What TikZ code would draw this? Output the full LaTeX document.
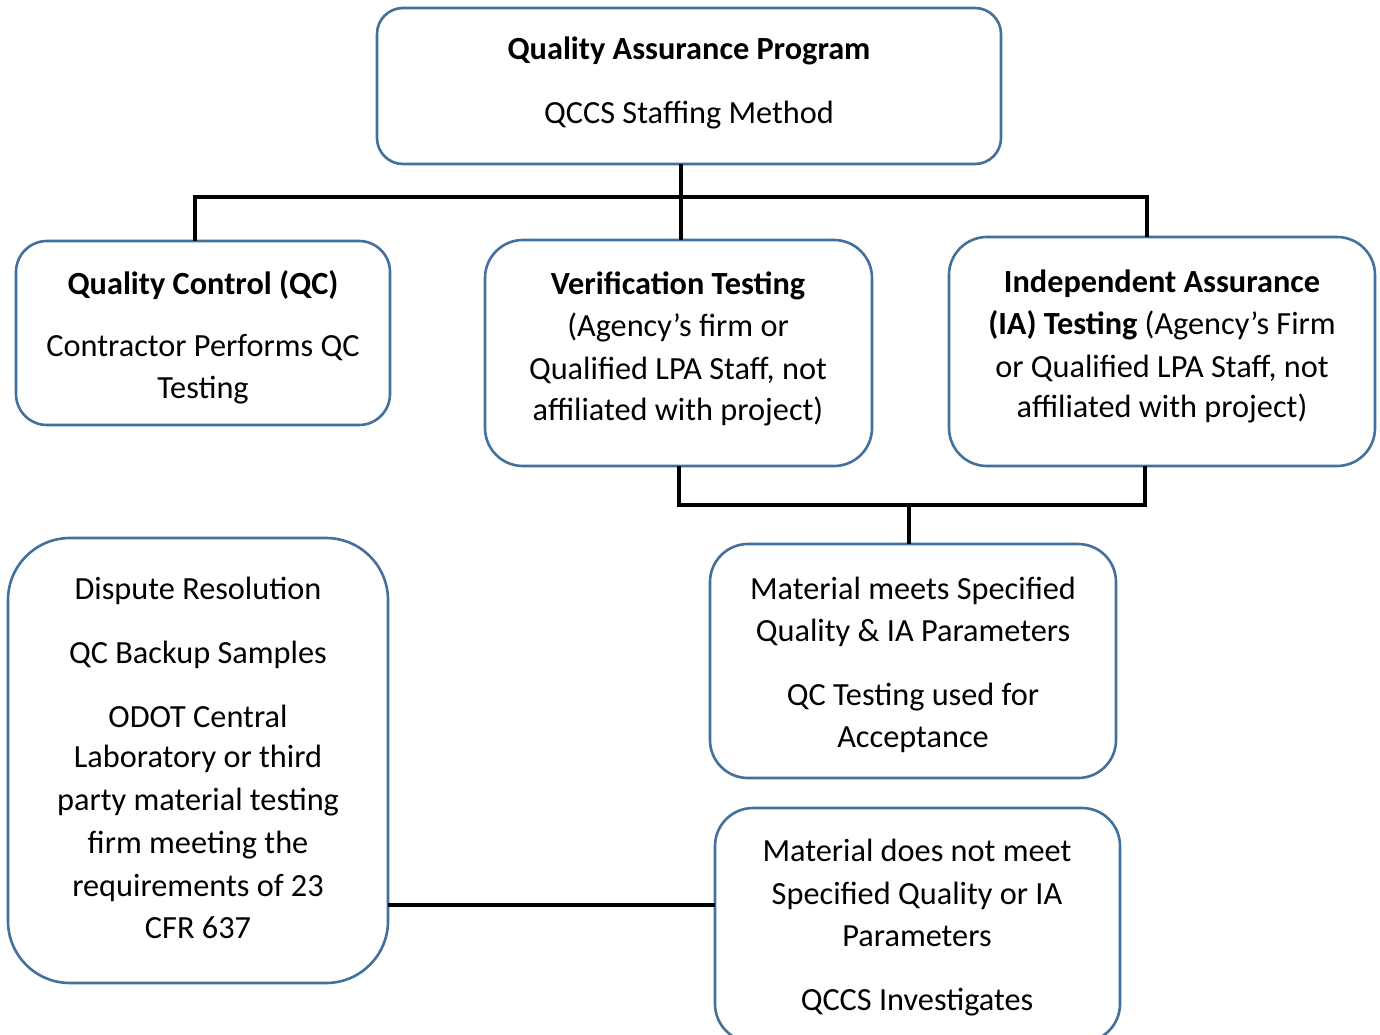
\documentclass[tikz,border=0pt]{standalone}
\usepackage{fontspec}
\setmainfont{Carlito}
\definecolor{boxblue}{RGB}{65,113,156}
\tikzset{
  box/.style={draw=boxblue, line width=2.6pt, fill=white, inner sep=0pt, outer sep=0pt},
  conn/.style={draw=black, line width=3.2pt},
  lbl/.style={anchor=base, inner sep=0pt, outer sep=0pt, font=\fontsize{32.3}{42.5}\selectfont},
}
\newcommand{\boxat}[6]{% name, x1, y1, x2, y2, radius
  \node[box, rounded corners=#6, minimum width={#4-#2}, minimum height={#5-#3}] (#1) at ({(#2+#4)/2},{(#3+#5)/2}) {};}
\begin{document}
\begin{tikzpicture}[x=1pt, y=-1pt]
\useasboundingbox (0,0) rectangle (1380,1034);
\clip (0,0) rectangle (1380,1034);
\fill[white] (0,0) rectangle (1380,1034);

% connectors (drawn first, boxes on top)
\coordinate (j1) at (681,197);
\coordinate (bl) at (195,197);
\coordinate (br) at (1147,197);
\coordinate (l1) at (679,505);
\coordinate (l2) at (1145,505);
\coordinate (l3) at (909,505);
\coordinate (mid) at (550,905);

% boxes
\boxat{top}{377}{8}{1001}{164}{26pt}
\boxat{qc}{16}{241}{390}{425}{31pt}
\boxat{vt}{485}{240}{872}{466}{38pt}
\boxat{ia}{949}{237}{1375}{466}{38pt}
\boxat{disp}{8}{538}{388}{983}{62pt}
\boxat{meets}{710}{544}{1116}{778}{38pt}
\boxat{notm}{715}{808}{1120}{1042}{38pt}

\draw[conn] (top.south -| j1) -- (j1 |- vt.north);
\draw[conn] (qc.north -| bl) -- (bl) -- (br) -- (br |- ia.north);
\draw[conn] (vt.south -| l1) -- (l1) -- (l2) -- (l2 |- ia.south);
\draw[conn] (l3) -- (l3 |- meets.north);
\draw[conn] (disp.east |- mid) -- (notm.west |- mid);

% texts
\node[lbl] (t1) at (689,59) {\textbf{Quality Assurance Program}};
\node[lbl] (t2) at (689,123) {QCCS Staffing Method};

\node[lbl] (q1) at (203,294) {\textbf{Quality Control (QC)}};
\node[lbl] (q2) at (203,356) {Contractor Performs QC};
\node[lbl] (q3) at (203,398) {Testing};

\node[lbl] (v1) at (678,294) {\textbf{Verification Testing}};
\node[lbl] (v2) at (678,336) {(Agency’s firm or};
\node[lbl] (v3) at (678,379) {Qualified LPA Staff, not};
\node[lbl] (v4) at (678,420) {affiliated with project)};

\node[lbl] (i1) at (1162,292) {\textbf{Independent Assurance}};
\node[lbl] (i2) at (1162,334) {\textbf{(IA) Testing} (Agency’s Firm};
\node[lbl] (i3) at (1162,377) {or Qualified LPA Staff, not};
\node[lbl] (i4) at (1162,417) {affiliated with project)};

\node[lbl] (d1) at (198,599) {Dispute Resolution};
\node[lbl] (d2) at (198,663) {QC Backup Samples};
\node[lbl] (d3) at (198,727) {ODOT Central};
\node[lbl] (d4) at (198,767) {Laboratory or third};
\node[lbl] (d5) at (198,810) {party material testing};
\node[lbl] (d6) at (198,853) {firm meeting the};
\node[lbl] (d7) at (198,896) {requirements of 23};
\node[lbl] (d8) at (198,938) {CFR 637};

\node[lbl] (m1) at (913,599) {Material meets Specified};
\node[lbl] (m2) at (913,641) {Quality \& IA Parameters};
\node[lbl] (m3) at (913,705) {QC Testing used for};
\node[lbl] (m4) at (913,747) {Acceptance};

\node[lbl] (n1) at (917,861) {Material does not meet};
\node[lbl] (n2) at (917,904) {Specified Quality or IA};
\node[lbl] (n3) at (917,946) {Parameters};
\node[lbl] (n4) at (917,1010) {QCCS Investigates};
\end{tikzpicture}
\end{document}
